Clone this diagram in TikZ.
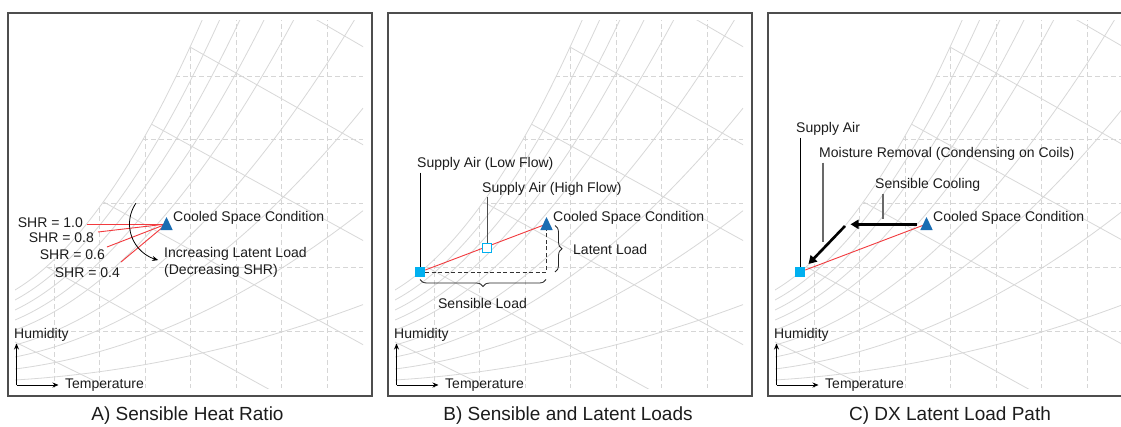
\documentclass[tikz,border=0pt]{standalone}
\usepackage{fontspec}
\setmainfont{Liberation Sans}
\usetikzlibrary{arrows.meta,decorations.pathreplacing,calc}

\definecolor{curvegray}{RGB}{216,216,216}
\definecolor{gridgray}{RGB}{214,214,214}
\definecolor{framegray}{RGB}{78,78,78}
\definecolor{linered}{RGB}{242,58,62}
\definecolor{spaceblue}{RGB}{26,108,178}
\definecolor{supplycyan}{RGB}{0,176,240}
\definecolor{textdark}{RGB}{28,28,28}
\definecolor{leadergray}{RGB}{105,105,105}

\newcommand{\lblfont}{\fontsize{14}{16.5}\selectfont}
\newcommand{\ttlfont}{\fontsize{19}{22}\selectfont}

\tikzset{
  rhcurve/.style={draw=curvegray, line width=0.8pt},
  griddash/.style={draw=gridgray, line width=0.8pt, dash pattern=on 5pt off 3pt},
  panelframe/.style={draw=framegray, line width=1.5pt},
  lbl/.style={font=\lblfont, text=textdark, inner sep=0pt},
  ttl/.style={font=\ttlfont, text=textdark, inner sep=0pt},
  redline/.style={draw=linered, line width=0.9pt},
  axisarrow/.style={draw=black, line width=0.8pt, -{Stealth[length=6pt,width=5pt]}},
  leader/.style={draw=black, line width=0.7pt},
  leaderdark/.style={draw=black!70, line width=0.8pt},
  leadergrey/.style={draw=leadergray, line width=1.2pt},
  loaddash/.style={draw=black!80, line width=1pt, dash pattern=on 4pt off 2.5pt},
  bracestyle/.style={draw=black!85, line width=0.8pt, decorate, decoration={brace, amplitude=7pt}},
  patharrow/.style={draw=black, line width=2.6pt, -{Triangle[length=8pt,width=9pt]}},
  supplysq/.style={fill=supplycyan, minimum size=10pt, inner sep=0pt},
  supplyhollow/.style={draw=supplycyan, fill=white, line width=1.8pt, minimum size=9pt, inner sep=0pt},
  spacemark/.pic={\fill[spaceblue] (0,-7) -- (6.2,6) -- (-6.2,6) -- cycle;},
}

% One framed psychrometric chart with its axes; #1 = name suffix, #2 = horizontal offset
\newcommand{\chartpanel}[2]{%
\begin{scope}[xshift=#2]
  \fill[white] (8,13) rectangle (372,396);
  \begin{scope}
    \clip (15,20) rectangle (363,388);
    % relative humidity curves
    \foreach \rh in {1,0.9,0.8,0.7,0.6,0.45,0.33,0.21,0.1}{
      \draw[rhcurve] plot[domain=15:363,samples=60,smooth]
        (\x,{390-\rh*(100+0.6*(\x-15)+(0.0671*(\x-15))^2)});
    }
    % everything else stays below the saturation curve
    \clip plot[domain=15:212,samples=60]
        (\x,{390-(100+0.6*(\x-15)+(0.0671*(\x-15))^2)})
        -- (420,-10) -- (420,420) -- (-10,420) -- (-10,290) -- cycle;
    \foreach \gx in {54,99.5,145,190.5,236,281.5,327}{
      \draw[griddash] (\gx,0) -- (\gx,388);
    }
    \foreach \gy in {76,139.5,203,267,331}{
      \draw[griddash] (15,\gy) -- (363,\gy);
    }
    % wet-bulb lines
    \foreach \px/\py/\sl in {317/20/0.58,190/47/0.565,153/125/0.55,100/200/0.55,143/320/0.55,15/342/0.49}{
      \draw[rhcurve] ({\px-400},{\py-400*\sl}) -- ({\px+400},{\py+400*\sl});
    }
  \end{scope}
  \draw[panelframe] (8,13) rectangle (372,396);
  % axes
  \coordinate (org#1) at (16.5,385);
  \coordinate (humtip#1) at (16.5,343.5);
  \coordinate (tmptip#1) at (58.5,385);
  \draw[axisarrow] (org#1) -- (humtip#1);
  \draw[axisarrow] (org#1) -- (tmptip#1);
  \node[lbl, anchor=base west] (hum#1) at (14,338) {Humidity};
  \node[lbl, anchor=base west] (tmp#1) at (65,388.3) {Temperature};
\end{scope}}

\begin{document}
\begin{tikzpicture}[x=1pt,y=-1pt]
  \useasboundingbox (0,0) rectangle (1121,426);
  \fill[white] (0,0) rectangle (1121,426);

  \chartpanel{A}{0pt}
  \chartpanel{B}{380pt}
  \chartpanel{C}{760pt}

  % ---------- A) Sensible heat ratio ----------
  \coordinate (csA) at (166.5,224);
  \coordinate (e10) at (87,224);
  \coordinate (e08) at (98,232);
  \coordinate (e06) at (107,247);
  \coordinate (e04) at (121,262);
  \foreach \e in {e10,e08,e06,e04}{
    \draw[redline] (csA) -- (\e);
  }
  \pic at (csA) {spacemark};
  \node[lbl, anchor=base east] (shr10) at (83,227) {SHR = 1.0};
  \node[lbl, anchor=base east] (shr08) at (94,242.5) {SHR = 0.8};
  \node[lbl, anchor=base east] (shr06) at (105,259) {SHR = 0.6};
  \node[lbl, anchor=base east] (shr04) at (120,277.5) {SHR = 0.4};
  \node[lbl, anchor=base west] (cscA) at (173,221) {Cooled Space Condition};
  \draw[black, line width=0.8pt, -{Stealth[length=6pt,width=5pt]}]
    plot[domain=214:103, samples=30] ({166.5+37*cos(\x)}, {224+37*sin(\x)});
  \node[lbl, anchor=base west] (incA) at (164,257.5)
    {\begin{tabular}[t]{@{}l@{}}Increasing Latent Load\\(Decreasing SHR)\end{tabular}};

  % ---------- B) Sensible and latent loads ----------
  \node[supplysq] (lowB) at (420,272) {};
  \coordinate (csB) at (546.5,224);
  \draw[loaddash] (lowB) -- (csB |- lowB) -- (csB);
  \draw[redline] (lowB) -- (csB);
  \pic at (csB) {spacemark};
  \node[supplyhollow] (highB) at (487,248) {};
  \node[lbl, anchor=base west] (cscB) at (553,221) {Cooled Space Condition};

  \coordinate (latTop) at (555,225.5);
  \coordinate (latBot) at (555,272);
  \draw[bracestyle] (latTop) -- (latBot);
  \node[lbl, anchor=base west] (latLbl) at (573,254.3) {Latent Load};
  \coordinate (senR) at (546,279.5);
  \coordinate (senL) at (420,279.5);
  \draw[bracestyle] (senR) -- (senL);
  \node[lbl, anchor=base] (senLbl) at (482.5,308.3) {Sensible Load};

  \node[lbl, anchor=base west] (lowLbl) at (417,167.5) {Supply Air (Low Flow)};
  \node[lbl, anchor=base west] (highLbl) at (482,192) {Supply Air (High Flow)};
  \draw[leader] ($(lowB |- lowLbl.south)+(0,2)$) -- (lowB.north);
  \draw[leaderdark] ($(highB |- highLbl.south)+(0,2)$) -- (highB.north);

  % ---------- C) DX latent load path ----------
  \node[supplysq] (saC) at (800,272) {};
  \coordinate (csC) at (926.5,224);
  \draw[redline] (saC) -- (csC);
  \pic at (csC) {spacemark};
  \node[lbl, anchor=base west] (cscC) at (933,221) {Cooled Space Condition};

  \coordinate (scStart) at (917,224.3);
  \coordinate (scEnd) at (850.5,224.3);
  \draw[patharrow] (scStart) -- (scEnd);
  \coordinate (mrStart) at (845,226);
  \coordinate (mrEnd) at (808.5,264);
  \draw[patharrow] (mrStart) -- (mrEnd);

  \node[lbl, anchor=base west] (saLblC) at (796,132.5) {Supply Air};
  \node[lbl, anchor=base west] (mrLbl) at (819,157.5) {Moisture Removal (Condensing on Coils)};
  \node[lbl, anchor=base west] (scLbl) at (875,188.5) {Sensible Cooling};
  \draw[leader] ($(saC |- saLblC.south)+(0,2)$) -- (saC.north);
  \coordinate (mrFoot) at (823,242);
  \draw[leadergrey] ($(mrFoot |- mrLbl.south)+(0,2)$) -- (mrFoot);
  \coordinate (scFoot) at (883,218.5);
  \draw[leadergrey] ($(scFoot |- scLbl.south)+(0,2)$) -- (scFoot);

  % ---------- titles ----------
  \node[ttl, anchor=base] (ttlA) at (187.5,420.5) {A) Sensible Heat Ratio};
  \node[ttl, anchor=base] (ttlB) at (568,420.5) {B) Sensible and Latent Loads};
  \node[ttl, anchor=base] (ttlC) at (950,420.5) {C) DX Latent Load Path};
\end{tikzpicture}
\end{document}
